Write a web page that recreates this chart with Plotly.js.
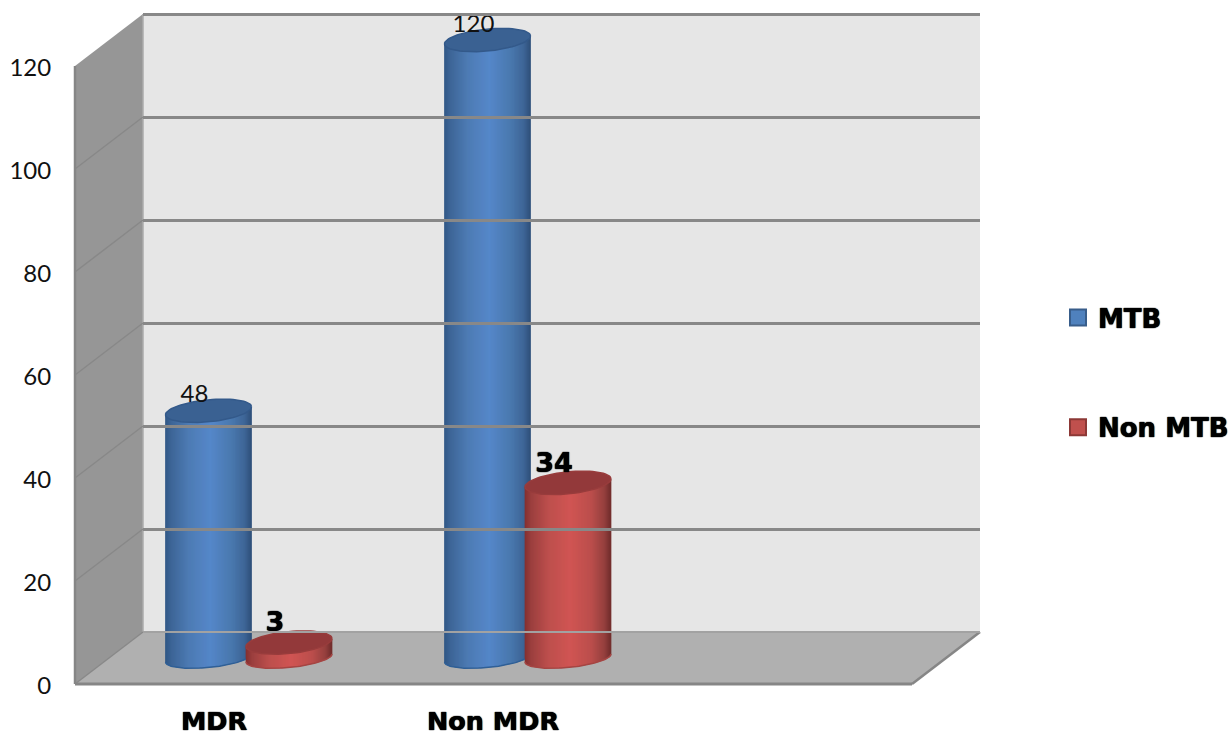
<!DOCTYPE html>
<html>
<head>
<meta charset="utf-8">
<script src="https://cdn.plot.ly/plotly-3.0.1.min.js"></script>
<style>html,body{margin:0;padding:0;background:#fff}</style>
</head>
<body>
<div id="chart" style="width:1231px;height:736px"></div>
<script>
// Chart data
const categories = ["MDR", "Non MDR"];
const mtbValues = [48, 120];
const nonMtbValues = [3, 34];
const valueTicks = [0, 20, 40, 60, 80, 100, 120];

// Page and frame geometry, in pixels
const W = 1231, H = 736, BOTTOM = 39;
const PLOT_H = H - BOTTOM;
const PX_PER_VALUE = 5.15;
const FRONT_ZERO = 684, BACK_ZERO = 632, BAR_ZERO = 658;
const FRONT_LEFT = 75, FRONT_RIGHT = 912, BACK_LEFT = 143, BACK_RIGHT = 980;
const FIRST_CATEGORY_PX = 214, CATEGORY_STEP = 279;

// Cylinder geometry, in pixels
const RADIUS = 43, CAP_DEPTH = 11, BASE_DEPTH = 9.5, CAP_TILT = 4, STRIP = 1;
const MTB_OFFSET = -5.5, NON_MTB_OFFSET = 75;
const LABEL_SHIFT = -14;

const toX = px => (px - FIRST_CATEGORY_PX) / CATEGORY_STEP;
const rangeFor = zero => [-(PLOT_H - zero) / PX_PER_VALUE, zero / PX_PER_VALUE];
const DEPTH = (FRONT_ZERO - BACK_ZERO) / PX_PER_VALUE;
const TOP = valueTicks[valueTicks.length - 1];

// Lit-from-the-front shading across a cylinder, left edge to right edge
const blueShade = [[-1, "#2c5484"], [-0.85, "#3a6396"], [-0.45, "#4a79b3"], [0.05, "#5285c9"], [0.55, "#4676ad"], [0.85, "#3a6295"], [1, "#2b4d78"]];
const redShade = [[-1, "#843030"], [-0.85, "#9b3f3e"], [-0.45, "#bd4f4d"], [0.05, "#d05553"], [0.55, "#bb4e4c"], [0.85, "#96403e"], [1, "#712c2c"]];

function hex(c) { return [1, 3, 5].map(i => parseInt(c.substr(i, 2), 16)); }
function shadeAt(stops, u) {
  for (let i = 1; i < stops.length; i++) {
    if (u <= stops[i][0]) {
      const f = (u - stops[i - 1][0]) / (stops[i][0] - stops[i - 1][0]);
      const a = hex(stops[i - 1][1]), b = hex(stops[i][1]);
      return "rgb(" + a.map((v, k) => Math.round(v + (b[k] - v) * f)).join(",") + ")";
    }
  }
  return stops[stops.length - 1][1];
}

// One cylinder body is a run of narrow bars whose shade follows the curved surface
function bodyTrace(values, offset, stops) {
  const x = [], y = [], base = [], color = [];
  values.forEach((v, c) => {
    for (let px = -RADIUS + STRIP / 2; px < RADIUS; px += STRIP) {
      const u = px / RADIUS;
      const low = (CAP_TILT * u - BASE_DEPTH * Math.sqrt(1 - u * u)) / PX_PER_VALUE;
      const high = v + CAP_TILT * u / PX_PER_VALUE;
      x.push(c + (offset + px) / CATEGORY_STEP);
      base.push(low);
      y.push(high - low);
      color.push(shadeAt(stops, u));
    }
  });
  return { type: "bar", x, y, base, width: (STRIP + 0.7) / CATEGORY_STEP, xaxis: "x", yaxis: "y3",
    marker: { color, line: { width: 0 } }, showlegend: false, hoverinfo: "skip" };
}

// Tilted elliptical cap seated on top of each cylinder
function capTrace(value, c, offset, fill, edge) {
  const x = [], y = [];
  for (let deg = 0; deg <= 360; deg += 5) {
    const t = deg * Math.PI / 180;
    x.push(c + (offset + RADIUS * Math.cos(t)) / CATEGORY_STEP);
    y.push(value + (CAP_TILT * Math.cos(t) - CAP_DEPTH * Math.sin(t)) / PX_PER_VALUE);
  }
  return { type: "scatter", mode: "lines", x, y, xaxis: "x", yaxis: "y3", fill: "toself", fillcolor: fill,
    line: { color: edge, width: 1.5 }, showlegend: false, hoverinfo: "skip" };
}

// Thin rim following the visible front of the base, stopping at maxPx from the axis of the cylinder
function rimTrace(c, offset, edge, maxPx) {
  const x = [], y = [];
  for (let deg = 0; deg <= 180; deg += 3) {
    const t = deg * Math.PI / 180;
    if (RADIUS * Math.cos(t) > maxPx) continue;
    x.push(c + (offset + RADIUS * Math.cos(t)) / CATEGORY_STEP);
    y.push((CAP_TILT * Math.cos(t) - BASE_DEPTH * Math.sin(t)) / PX_PER_VALUE);
  }
  return { type: "scatter", mode: "lines", x, y, xaxis: "x", yaxis: "y3",
    line: { color: edge, width: 1.5 }, showlegend: false, hoverinfo: "skip" };
}

function labelTrace(values, offset, font, lift) {
  return { type: "scatter", mode: "text", xaxis: "x", yaxis: "y3",
    x: values.map((v, c) => c + (offset + LABEL_SHIFT) / CATEGORY_STEP),
    y: values.map(v => v + lift / PX_PER_VALUE),
    text: values.map(String), textposition: "middle center", textfont: font,
    showlegend: false, hoverinfo: "skip" };
}

function legendTrace(name, fill, edge) {
  return { type: "scatter", mode: "markers", name, x: [null], y: [null], xaxis: "x", yaxis: "y3", legendgroup: name,
    marker: { symbol: "square", size: 16, color: fill, line: { color: edge, width: 2 } }, hoverinfo: "skip" };
}

const HEAVY_SHADOW = "0 0 1px #000, 0 0 1px #000";
const plainFont = { family: "Lato, sans-serif", size: 24, color: "#111" };
const heavyFont = { family: "DejaVu Sans, sans-serif", size: 27, weight: 700, color: "#000", shadow: HEAVY_SHADOW };

const traces = [
  bodyTrace(mtbValues, MTB_OFFSET, blueShade),
  bodyTrace(nonMtbValues, NON_MTB_OFFSET, redShade)
];
// The blue rim ends where the red cylinder beside it begins
const blueRimEnd = NON_MTB_OFFSET - RADIUS - MTB_OFFSET;
mtbValues.forEach((v, c) => traces.push(rimTrace(c, MTB_OFFSET, "#2f5f96", blueRimEnd), capTrace(v, c, MTB_OFFSET, "#3a6192", "#33598a")));
nonMtbValues.forEach((v, c) => traces.push(rimTrace(c, NON_MTB_OFFSET, "#a54543", RADIUS), capTrace(v, c, NON_MTB_OFFSET, "#93393a", "#983c3c")));
traces.push(
  labelTrace(mtbValues, MTB_OFFSET, plainFont, 14.5),
  labelTrace(nonMtbValues, NON_MTB_OFFSET, heavyFont, 18),
  legendTrace("MTB", "#4f81bd", "#385d8a"),
  legendTrace("Non MTB", "#c0504d", "#8c3836")
);

// Side wall, back wall, floor and the receding gridlines, placed on the value scale
const pt = (px, v) => toX(px) + " " + v;
const poly = (points, fill) => ({ type: "path", xref: "x", yref: "y", layer: "below", fillcolor: fill, line: { width: 0 },
  path: "M " + points.join(" L ") + " Z" });
const edge = (a, b, color, width) => ({ type: "path", xref: "x", yref: "y", layer: "below", line: { color, width },
  path: "M " + a + " L " + b });

const shapes = [
  poly([pt(BACK_LEFT, DEPTH), pt(BACK_RIGHT, DEPTH), pt(BACK_RIGHT, TOP + DEPTH), pt(BACK_LEFT, TOP + DEPTH)], "#e6e6e6"),
  poly([pt(FRONT_LEFT, 0), pt(BACK_LEFT, DEPTH), pt(BACK_LEFT, TOP + DEPTH), pt(FRONT_LEFT, TOP)], "#969696"),
  poly([pt(FRONT_LEFT, 0), pt(FRONT_RIGHT, 0), pt(BACK_RIGHT, DEPTH), pt(BACK_LEFT, DEPTH)], "#b0b0b0"),
  edge(pt(BACK_LEFT, DEPTH), pt(BACK_LEFT, TOP + DEPTH), "#ababab", 1.5)
];
valueTicks.slice(0, -1).forEach(v => shapes.push(edge(pt(FRONT_LEFT, v), pt(BACK_LEFT, v + DEPTH), "#888888", 1.5)));
shapes.push(
  edge(pt(FRONT_LEFT, 0), pt(FRONT_LEFT, TOP), "#868686", 2.5),
  edge(pt(FRONT_LEFT, 0), pt(FRONT_RIGHT, 0), "#868686", 3),
  edge(pt(FRONT_RIGHT, 0), pt(BACK_RIGHT, DEPTH), "#868686", 2.5)
);

const layout = {
  width: W, height: H,
  margin: { l: 0, r: 0, t: 0, b: BOTTOM, autoexpand: false },
  paper_bgcolor: "#fff", plot_bgcolor: "rgba(0,0,0,0)",
  barmode: "overlay",
  shapes,
  xaxis: { domain: [0, 1], range: [toX(0), toX(W)], tickmode: "array", tickvals: categories.map((c, i) => i), ticktext: categories,
    showgrid: false, zeroline: false, showline: false, ticks: "outside", ticklen: 1, tickcolor: "rgba(0,0,0,0)",
    tickfont: { family: "DejaVu Sans, sans-serif", size: 25.5, weight: 700, color: "#000", shadow: HEAVY_SHADOW } },
  yaxis: { domain: [0, 1], range: rangeFor(FRONT_ZERO), anchor: "free", position: FRONT_LEFT / W, tickmode: "array", tickvals: valueTicks,
    showgrid: false, zeroline: false, showline: false, ticks: "outside", ticklen: 19, tickcolor: "rgba(0,0,0,0)", ticklabelshift: 2,
    tickfont: { family: "Lato, sans-serif", size: 24, color: "#111" } },
  xaxis2: { domain: [BACK_LEFT / W, BACK_RIGHT / W], range: [0, 1], visible: false, anchor: "y2" },
  yaxis2: { domain: [0, 1], range: rangeFor(BACK_ZERO), anchor: "x2", tickmode: "array", tickvals: valueTicks, showticklabels: false,
    ticks: "", showline: false, showgrid: true, gridcolor: "#888888", gridwidth: 3, zeroline: true, zerolinecolor: "#a2a2a2", zerolinewidth: 1.5 },
  yaxis3: { domain: [0, 1], range: rangeFor(BAR_ZERO), overlaying: "y", anchor: "x", visible: false },
  showlegend: true,
  legend: { x: 1058 / W, y: 1 - 294 / PLOT_H, xanchor: "left", yanchor: "top", tracegroupgap: 73, bgcolor: "rgba(0,0,0,0)",
    font: { family: "DejaVu Sans, sans-serif", size: 26, weight: 700, color: "#000", shadow: HEAVY_SHADOW } }
};

// An empty trace keeps the back-wall grid subplot on the chart
traces.push({ type: "scatter", mode: "none", x: [0], y: [0], xaxis: "x2", yaxis: "y2", showlegend: false, hoverinfo: "skip" });

Plotly.newPlot("chart", traces, layout, { displayModeBar: false, staticPlot: true });
</script>
</body>
</html>
